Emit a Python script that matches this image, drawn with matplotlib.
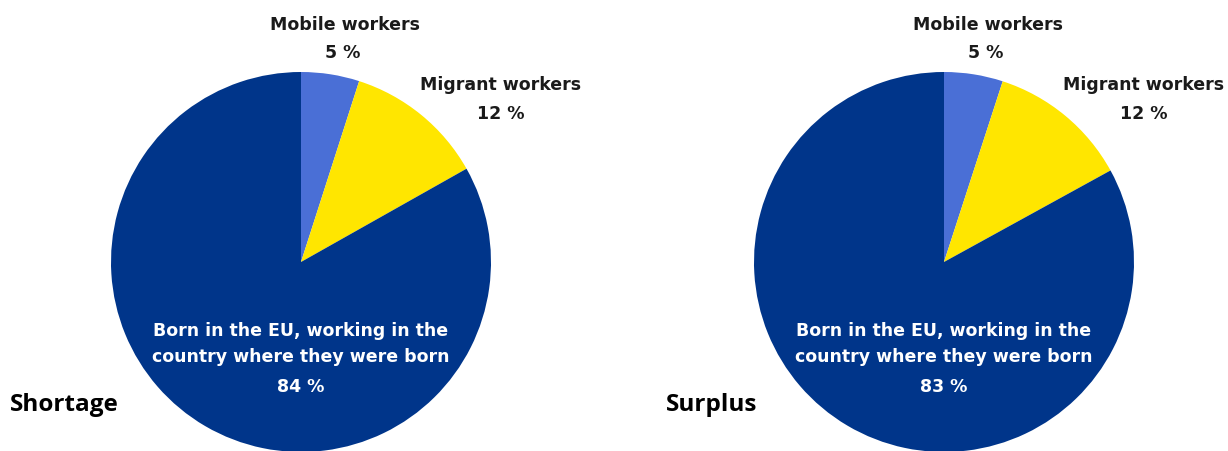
import matplotlib
matplotlib.use('Agg')
import matplotlib.pyplot as plt

# data
panels = ['Shortage', 'Surplus']
categories = ['Mobile workers', 'Migrant workers',
              'Born in the EU, working in the\ncountry where they were born']
shortage_vals = [5, 12, 84]
surplus_vals = [5, 12, 83]
colors = ['#4a6fd6', '#ffe600', '#00358a']

W, H = 1228, 451
fig = plt.figure(figsize=(W / 100, H / 100), dpi=100)

R = 190  # pie radius in px
centers = [(301, 262), (944, 262)]
title_x = [10, 666]

lab_font = ['DejaVu Sans']

for vals, name, (cx, cy), tx in zip([shortage_vals, surplus_vals], panels, centers, title_x):
    ax = fig.add_axes([(cx - R) / W, (H - cy - R) / H, 2 * R / W, 2 * R / H])
    ax.pie(vals, colors=colors, startangle=90, counterclock=False, radius=1,
           wedgeprops=dict(linewidth=0))
    ax.set_xlim(-1, 1)
    ax.set_ylim(-1, 1)
    ax.set_aspect('equal')
    ax.axis('off')

    kw = dict(ha='center', va='center', fontsize=12.5, fontweight='bold', family=lab_font)
    ax.text(0.23, 1.25, categories[0], color='#1a1a1a', **kw)
    ax.text(0.22, 1.10, '%d %%' % vals[0], color='#1a1a1a', **kw)
    ax.text(1.05, 0.93, categories[1], color='#1a1a1a', **kw)
    ax.text(1.05, 0.78, '%d %%' % vals[1], color='#1a1a1a', **kw)
    ax.text(0.0, -0.43, categories[2], color='white', linespacing=1.6, **kw)
    ax.text(0.0, -0.66, '%d %%' % vals[2], color='white', **kw)

    fig.text(tx / W, (H - 405) / H, name, ha='left', va='center',
             fontsize=17.5, fontweight='bold', family=['Open Sans', 'DejaVu Sans'])

fig.savefig('out.png', dpi=100)
